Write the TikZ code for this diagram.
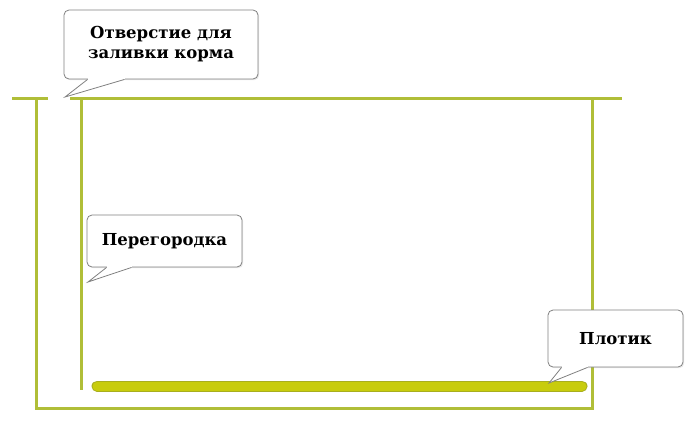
\documentclass[tikz,border=0pt]{standalone}
\usepackage{fontspec}
\setmainfont{DejaVu Serif}
\usepackage{xcolor}
\usepackage{tikz}
\usetikzlibrary{calc,shadows}
\definecolor{frame line}{RGB}{176,190,56}
\definecolor{plank fill}{RGB}{200,204,12}
\definecolor{plank edge}{RGB}{168,174,30}
\colorlet{callout edge}{black!50}
\tikzset{wall/.style={draw=frame line, line width=3pt},
    callout/.style={draw=callout edge, fill=white, rounded corners=5pt, line width=0.8pt,
        align=center, inner sep=0pt, font=\fontsize{16.5}{20}\selectfont\bfseries,
        drop shadow={opacity=0.18, shadow xshift=1.2pt, shadow yshift=-1.2pt}},
    tail/.style={draw=callout edge, line width=0.8pt, line join=miter}}
% callout tail: #1 box, #2 and #3 offsets of the base along the bottom edge, #4 tip
\def\tail#1#2#3#4{%
    \fill[white] ($(#1.south west)+(#2,-1.5)$) -- ($(#1.south west)+(#2,1)$)
        -- ($(#1.south west)+(#3,1)$) -- ($(#1.south west)+(#3,-1.5)$) -- cycle;
    \fill[white] ($(#1.south west)+(#2,0)$) -- (#4) -- ($(#1.south west)+(#3,0)$) -- cycle;
    \draw[tail] ($(#1.south west)+(#2,0)$) -- (#4) -- ($(#1.south west)+(#3,0)$);}

\begin{document}
\begin{tikzpicture}[x=1pt, y=-1pt]
    \useasboundingbox (0,0) rectangle (690,426);
    % tank
    \draw[wall] (12,98) -- (48,98);
    \draw[wall] (70,98) -- (622,98);
    \draw[wall] (36,98) -- (36,408) -- (592,408) -- (592,98);
    \draw[wall] (81,98) -- (81,390);
    % plank
    \draw[plank edge, line width=11pt, line cap=round] (97,386) -- (582,386);
    \draw[plank fill, line width=9pt, line cap=round] (97,386) -- (582,386);
    % callouts
    \coordinate (hole) at (65,97);
    \coordinate (wall) at (88,282);
    \coordinate (raft) at (549,383);
    \node[callout, minimum width=194pt, minimum height=69pt] (holebox) at (161,44.5)
        {Отверстие для\\заливки корма};
    \node[callout, minimum width=155pt, minimum height=52pt] (wallbox) at (164.5,241)
        {Перегородка};
    \node[callout, minimum width=135pt, minimum height=57pt] (raftbox) at (615.5,338.5)
        {Плотик};
    \tail{holebox}{24}{61}{hole}
    \tail{wallbox}{20}{45}{wall}
    \tail{raftbox}{14}{40}{raft}
\end{tikzpicture}
\end{document}
